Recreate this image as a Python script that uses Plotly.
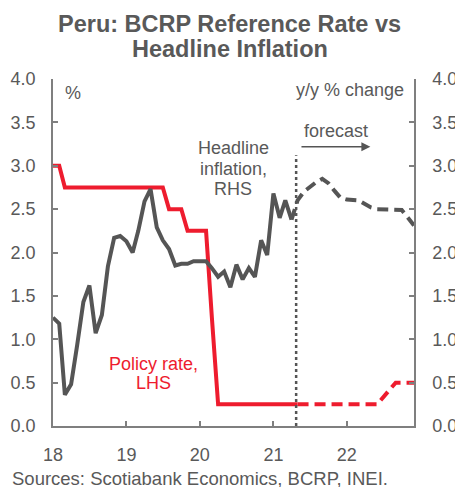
import plotly.graph_objects as go
import pandas as pd

# ---------------- data ----------------
infl_dates = pd.date_range("2018-01-01", "2021-04-01", freq="MS")
inflation_actual = [
    1.25, 1.18, 0.36, 0.48, 0.93, 1.43, 1.62, 1.07, 1.28, 1.84, 2.17, 2.19,
    2.13, 2.00, 2.25, 2.59, 2.73, 2.29, 2.14, 2.04, 1.85, 1.87, 1.87, 1.90,
    1.90, 1.90, 1.82, 1.72, 1.78, 1.60, 1.86, 1.69, 1.82, 1.72, 2.14, 1.97,
    2.68, 2.40, 2.60, 2.38,
]
infl_fc_dates = pd.date_range("2021-04-01", "2022-12-01", freq="MS")
inflation_forecast = [
    2.38, 2.60, 2.70, 2.76, 2.81, 2.85, 2.80, 2.71, 2.63, 2.61, 2.60,
    2.60, 2.56, 2.52, 2.50, 2.50, 2.50, 2.50, 2.49, 2.40, 2.31,
]
policy_dates = pd.date_range("2018-01-01", "2021-05-01", freq="MS")
policy_actual = [
    3.00, 3.00, 2.75, 2.75, 2.75, 2.75, 2.75, 2.75, 2.75, 2.75, 2.75, 2.75,
    2.75, 2.75, 2.75, 2.75, 2.75, 2.75, 2.75, 2.50, 2.50, 2.50, 2.25, 2.25,
    2.25, 2.25, 1.25, 0.25, 0.25, 0.25, 0.25, 0.25, 0.25, 0.25, 0.25, 0.25,
    0.25, 0.25, 0.25, 0.25, 0.25,
]
policy_fc_dates = ["2021-05-01", "2022-06-01", "2022-09-01", "2022-12-01"]
policy_forecast = [0.25, 0.25, 0.50, 0.50]

forecast_start = "2021-04-24"
x_ticks_year = ["18", "19", "20", "21", "22"]

# ---------------- styles ----------------
RED = "#EE1C2E"
GRAY = "#555555"
TXT = "#595959"
AX = "#7F7F7F"
FONT = "Liberation Sans, Arial, sans-serif"

fig = go.Figure()
fig.add_trace(go.Scatter(x=policy_dates, y=policy_actual, mode="lines",
                         line=dict(color=RED, width=4), yaxis="y", hoverinfo="skip"))
fig.add_trace(go.Scatter(x=policy_fc_dates, y=policy_forecast, mode="lines",
                         line=dict(color=RED, width=4, dash="11px,6px"), yaxis="y", hoverinfo="skip"))
fig.add_trace(go.Scatter(x=infl_dates, y=inflation_actual, mode="lines",
                         line=dict(color=GRAY, width=4), yaxis="y2", hoverinfo="skip"))
fig.add_trace(go.Scatter(x=infl_fc_dates, y=inflation_forecast, mode="lines",
                         line=dict(color=GRAY, width=4, dash="11px,6px"), yaxis="y2", hoverinfo="skip"))

fig.add_shape(type="line", xref="x", yref="y", x0=forecast_start, x1=forecast_start,
              y0=0, y1=3.12, line=dict(color=GRAY, width=2.5, dash="dot"))

axis_common = dict(showline=True, linecolor=AX, linewidth=1.5, ticks="inside",
                   ticklen=5, tickcolor=AX, tickwidth=1.5, showgrid=False, zeroline=False,
                   automargin=False,
                   tickfont=dict(family=FONT, size=18, color=TXT))

fig.update_layout(
    width=455, height=487,
    margin=dict(l=53, r=41, t=79, b=61),
    plot_bgcolor="white", paper_bgcolor="white",
    showlegend=False,
    xaxis=dict(type="date", range=["2018-01-01", "2022-12-01"],
               tickmode="array",
               tickvals=[f"20{y}-01-01" for y in x_ticks_year],
               ticktext=x_ticks_year, ticklabelstandoff=12, **axis_common),
    yaxis=dict(range=[0, 4], dtick=0.5, tickformat=".1f", ticklabelstandoff=12, **axis_common),
    yaxis2=dict(range=[0, 4], dtick=0.5, tickformat=".1f", overlaying="y", side="right",
                ticklabelstandoff=13, **axis_common),
)

def txt(text, x, y, color=TXT, size=18, xanchor="center", xref="x", yref="y", bold=False):
    fig.add_annotation(text=f"<b>{text}</b>" if bold else text, x=x, y=y, xref=xref, yref=yref,
                       showarrow=False, xanchor=xanchor, yanchor="middle",
                       font=dict(family=FONT, size=size, color=color))

# title
txt("Peru: BCRP Reference Rate vs", 0.49, 1.1585, size=23.5, xref="paper", yref="paper", bold=True)
txt("Headline Inflation", 0.49, 1.0865, size=23.5, xref="paper", yref="paper", bold=True)
# footer
txt("Sources: Scotiabank Economics, BCRP, INEI.", 0.407, -0.1500, size=18.5, xref="paper", yref="paper")

txt("%", "2018-04-10", 3.84)
txt("y/y % change", "2022-10-20", 3.87, xanchor="right")
txt("Headline", "2020-06-15", 3.21)
txt("inflation,", "2020-06-15", 2.96)
txt("RHS", "2020-06-15", 2.73)
txt("forecast", "2021-11-06", 3.40)
txt("Policy rate,", "2019-05-16", 0.72, color=RED)
txt("LHS", "2019-05-16", 0.49, color=RED)

fig.add_annotation(x="2022-04-28", y=3.22, ax="2021-05-13", ay=3.22, xref="x", yref="y",
                   axref="x", ayref="y", text="", showarrow=True, arrowhead=2,
                   arrowsize=1.2, arrowwidth=1.5, arrowcolor=GRAY)

# remove the page's default body margin so the 455x487 figure fills the window exactly
fig.write_html("out.html", config={"displayModeBar": False},
               post_script="document.body.style.margin='0';document.body.style.overflow='hidden';")
